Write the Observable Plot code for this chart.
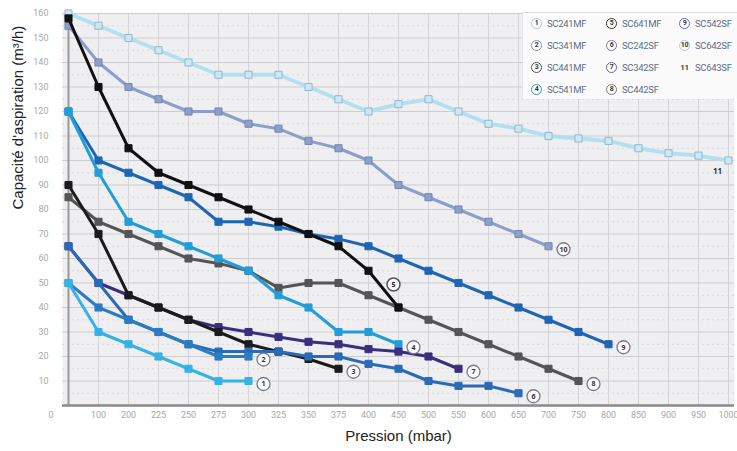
<!DOCTYPE html>
<html><head><meta charset="utf-8">
<script src="https://cdn.jsdelivr.net/npm/d3@7"></script>
<script src="https://cdn.jsdelivr.net/npm/@observablehq/plot@0.6"></script>
<style>
html,body{margin:0;padding:0;background:#fff;}
#wrap{position:relative;width:737px;height:451px;overflow:hidden;}
#legend{position:absolute;left:522px;top:12px;width:215px;height:86px;background:#fbfbfb;border-top:1px solid #ddd;border-left:1px solid #e6e6e6;
 font-family:"Liberation Sans Narrow","Roboto","DejaVu Sans Condensed",sans-serif;font-size:9.5px;color:#5d6f88;}
.it{position:absolute;display:flex;align-items:center;white-space:nowrap;letter-spacing:-0.3px;}
.ci{display:inline-block;width:11px;height:11px;border-radius:50%;border:1.5px solid;box-sizing:border-box;font-size:7px;line-height:8px;text-align:center;color:#333;margin-right:5px;background:#fff;font-weight:bold;}
.nc{display:inline-block;width:11px;font-size:8px;font-weight:bold;color:#444;margin-right:5px;text-align:center;}
</style></head>
<body><div id="wrap"><div id="chart"></div><div id="legend"></div></div>
<script>
const pressures = ["0","100","200","225","250","275","300","325","350","375","400","450","500","550","600","650","700","750","800","850","900","950","1000"];
const seriesNames = ["SC241MF","SC341MF","SC441MF","SC541MF","SC641MF","SC242SF","SC342SF","SC442SF","SC542SF","SC642SF","SC643SF"];
const s1 = [50,30,25,20,15,10,10];
const s2 = [50,40,35,30,25,20,20];
const s3 = [90,70,45,40,35,30,25,22,19,15];
const s4 = [120,95,75,70,65,60,55,45,40,30,30,25];
const s5 = [158,130,105,95,90,85,80,75,70,65,55,40];
const s6 = [65,50,35,30,25,22,22,22,20,20,17,15,10,8,8,5];
const s7 = [65,50,45,40,35,32,30,28,26,25,23,22,20,15];
const s8 = [85,75,70,65,60,58,55,48,50,50,45,40,35,30,25,20,15,10];
const s9 = [120,100,95,90,85,75,75,73,70,68,65,60,55,50,45,40,35,30,25];
const s10 = [155,140,130,125,120,120,115,113,108,105,100,90,85,80,75,70,65];
const s11 = [160,155,150,145,140,135,135,135,130,125,120,123,125,120,115,113,110,109,108,105,103,102,100];
const yTicks = [10,20,30,40,50,60,70,80,90,100,110,120,130,140,150,160];

const values = [s1,s2,s3,s4,s5,s6,s7,s8,s9,s10,s11];
const lineColors = ["#35b2e6","#2b7cc2","#1b1b1b","#229dd8","#111111","#2a6ab6","#3a2e80","#555555","#1e66b4","#8c9fcc","#b3e0f0"];
const dotFill =    ["#35b2e6","#2b7cc2","#1b1b1b","#229dd8","#111111","#2a6ab6","#3a2e80","#555555","#1e66b4","#8fa0c8","#cde8f3"];
const dotStroke =  ["#35b2e6","#2b7cc2","#1b1b1b","#229dd8","#111111","#2a6ab6","#3a2e80","#555555","#1e66b4","#7186b6","#8fb8d0"];
const widths = [3,3,3,3,3,3,3,3,3,3,4];
const order = [10,9,8,7,4,3,6,2,5,1,0];

const rows = values.map((arr,k)=>arr.map((v,i)=>({k, x: pressures[i], y: v})));
const ends = rows.map(r=>r[r.length-1]);

const marks = [
  Plot.frame({fill:"#efeff1"}),
  Plot.gridX(pressures, {stroke:"#d4d4d6", strokeOpacity:1}),
  Plot.gridY(d3.range(5,160,10), {stroke:"#d8d8da", strokeOpacity:1, strokeDasharray:"2,3"}),
  Plot.gridY(yTicks, {stroke:"#cdcdd0", strokeOpacity:1}),
  Plot.ruleX([pressures[0]], {stroke:"#9a9a9a", strokeWidth:2}),
  Plot.ruleY([0], {stroke:"#8a8a8a", strokeWidth:2.5}),
  Plot.axisY(yTicks, {tickSize:0, tickPadding:14, fontSize:9, fill:"#a8a8a8", fontFamily:"Liberation Sans Narrow, Roboto, sans-serif", label:null}),
  Plot.axisY([0], {tickSize:0, tickPadding:9, dy:10, fontSize:9, fill:"#a8a8a8", fontFamily:"Liberation Sans Narrow, Roboto, sans-serif", label:null}),
  Plot.axisX(pressures.slice(1), {tickSize:0, tickPadding:6, fontSize:9, fill:"#a8a8a8", fontFamily:"Liberation Sans Narrow, Roboto, sans-serif", label:null}),
];
for (const k of order) {
  marks.push(Plot.line(rows[k], {x:"x", y:"y", stroke:lineColors[k], strokeWidth:widths[k], curve:"linear"}));
  marks.push(Plot.dot(rows[k], {x:"x", y:"y", symbol:"square", r:4, fill:dotFill[k], stroke:dotStroke[k], strokeWidth:1}));
}
// end labels
const normal = [0,1,2,3,5,6,7,8,9];
const nEnds = normal.map(k=>ends[k]);
marks.push(Plot.dot(nEnds, {x:"x", y:"y", dx:15, dy:3, r:6.5, fill:"#fafafa", stroke:d=>lineColors[d.k]==="#b3e0f0"?"#999":"#7a7a8a", strokeWidth:1.3}));
marks.push(Plot.text(nEnds, {x:"x", y:"y", dx:15, dy:3, text:d=>String(d.k+1), fontSize:7, fontWeight:"bold", fill:"#333"}));
marks.push(Plot.dot([ends[4]], {x:"x", y:"y", dx:-5, dy:-23, r:6.5, fill:"#fafafa", stroke:"#555", strokeWidth:1.5}));
marks.push(Plot.text([ends[4]], {x:"x", y:"y", dx:-5, dy:-23, text:d=>String(d.k+1), fontSize:7, fontWeight:"bold", fill:"#222"}));
marks.push(Plot.text([ends[10]], {x:"x", y:"y", dx:-11, dy:11, text:d=>String(d.k+1), fontSize:8, fontWeight:"bold", fill:"#333"}));
// axis titles
marks.push(Plot.text(["Pression (mbar)"], {frameAnchor:"bottom", dy:35, fontSize:15, fill:"#222", fontFamily:"Liberation Sans, Arial, sans-serif"}));
marks.push(Plot.text(["Capacité d'aspiration (m³/h)"], {frameAnchor:"left", dx:-44, rotate:-90, fontSize:15, fill:"#222", fontFamily:"Liberation Sans, Arial, sans-serif"}));

const chart = Plot.plot({
  width:737, height:451,
  marginLeft:62, marginRight:3, marginTop:13, marginBottom:46,
  x:{type:"point", domain:pressures, padding:0},
  y:{domain:[0,160]},
  style:{background:"#fff", overflow:"visible"},
  marks
});
document.getElementById("chart").appendChild(chart);

// legend
const leg = document.getElementById("legend");
const colX = [8, 83, 156];
const rowY = [2, 24, 46, 68];
const ringColor = ["#9ccbe6","#8e8eb0","#555","#3a8fd0","#333","#6b78b8","#6a5fa8","#777","#6a6ac0","#b8c2e0",null];
seriesNames.forEach((name,i)=>{
  const c = Math.floor(i/4), r = i%4;
  const it = document.createElement("div");
  it.className="it";
  it.style.left = colX[c]+"px";
  it.style.top = rowY[r]+"px";
  it.style.height="16px";
  const mk = document.createElement("span");
  if (i===10) { mk.className="nc"; mk.textContent=String(i+1); }
  else { mk.className="ci"; mk.style.borderColor=ringColor[i]; mk.textContent=String(i+1); }
  it.appendChild(mk);
  const t = document.createElement("span");
  t.textContent = name;
  it.appendChild(t);
  leg.appendChild(it);
});
</script></body></html>
